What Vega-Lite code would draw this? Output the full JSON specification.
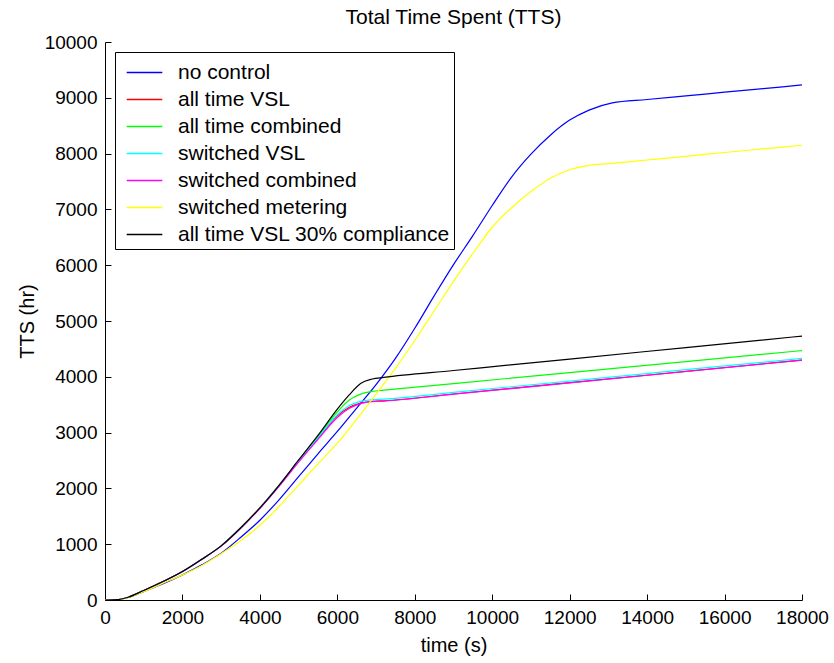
{
  "$schema": "https://vega.github.io/schema/vega-lite/v6.json",
  "autosize": "none",
  "width": 697,
  "height": 558,
  "padding": {"left": 105, "top": 42, "right": 32, "bottom": 63},
  "background": "white",
  "title": {"text": "Total Time Spent (TTS)", "font": "Liberation Sans", "fontSize": 21, "fontWeight": "normal", "color": "black", "anchor": "middle", "offset": 5},
  "config": {"view": {"stroke": null}},
  "datasets": {
    "tts": [
      {"s": "no control", "t": 0, "v": 0}, {"s": "no control", "t": 300, "v": 5}, {"s": "no control", "t": 600, "v": 45}, {"s": "no control", "t": 1000, "v": 150}, {"s": "no control", "t": 1500, "v": 290}, {"s": "no control", "t": 2000, "v": 450}, {"s": "no control", "t": 2500, "v": 630}, {"s": "no control", "t": 3000, "v": 840}, {"s": "no control", "t": 3500, "v": 1120}, {"s": "no control", "t": 4000, "v": 1430}, {"s": "no control", "t": 4500, "v": 1800}, {"s": "no control", "t": 5000, "v": 2210}, {"s": "no control", "t": 5500, "v": 2620}, {"s": "no control", "t": 6000, "v": 3020}, {"s": "no control", "t": 6500, "v": 3440}, {"s": "no control", "t": 7000, "v": 3860}, {"s": "no control", "t": 7500, "v": 4330}, {"s": "no control", "t": 8000, "v": 4870}, {"s": "no control", "t": 8500, "v": 5450}, {"s": "no control", "t": 9000, "v": 6010}, {"s": "no control", "t": 9500, "v": 6530}, {"s": "no control", "t": 10000, "v": 7070}, {"s": "no control", "t": 10500, "v": 7580}, {"s": "no control", "t": 11000, "v": 7990}, {"s": "no control", "t": 11500, "v": 8330}, {"s": "no control", "t": 12000, "v": 8600}, {"s": "no control", "t": 12500, "v": 8780}, {"s": "no control", "t": 13100, "v": 8910}, {"s": "no control", "t": 14000, "v": 8970}, {"s": "no control", "t": 15000, "v": 9035}, {"s": "no control", "t": 16000, "v": 9100}, {"s": "no control", "t": 17000, "v": 9165}, {"s": "no control", "t": 18000, "v": 9230},

      {"s": "all time VSL", "t": 0, "v": 0}, {"s": "all time VSL", "t": 300, "v": 5}, {"s": "all time VSL", "t": 600, "v": 50}, {"s": "all time VSL", "t": 1000, "v": 170}, {"s": "all time VSL", "t": 1500, "v": 330}, {"s": "all time VSL", "t": 2000, "v": 510}, {"s": "all time VSL", "t": 2500, "v": 730}, {"s": "all time VSL", "t": 3000, "v": 970}, {"s": "all time VSL", "t": 3500, "v": 1290}, {"s": "all time VSL", "t": 4000, "v": 1650}, {"s": "all time VSL", "t": 4500, "v": 2060}, {"s": "all time VSL", "t": 5000, "v": 2490}, {"s": "all time VSL", "t": 5500, "v": 2900}, {"s": "all time VSL", "t": 6000, "v": 3300}, {"s": "all time VSL", "t": 6300, "v": 3450}, {"s": "all time VSL", "t": 6600, "v": 3530}, {"s": "all time VSL", "t": 6900, "v": 3560}, {"s": "all time VSL", "t": 7200, "v": 3570}, {"s": "all time VSL", "t": 9000, "v": 3692}, {"s": "all time VSL", "t": 12000, "v": 3894}, {"s": "all time VSL", "t": 15000, "v": 4097}, {"s": "all time VSL", "t": 18000, "v": 4300},

      {"s": "all time combined", "t": 0, "v": 0}, {"s": "all time combined", "t": 300, "v": 5}, {"s": "all time combined", "t": 600, "v": 50}, {"s": "all time combined", "t": 1000, "v": 170}, {"s": "all time combined", "t": 1500, "v": 330}, {"s": "all time combined", "t": 2000, "v": 510}, {"s": "all time combined", "t": 2500, "v": 730}, {"s": "all time combined", "t": 3000, "v": 970}, {"s": "all time combined", "t": 3500, "v": 1290}, {"s": "all time combined", "t": 4000, "v": 1650}, {"s": "all time combined", "t": 4500, "v": 2060}, {"s": "all time combined", "t": 5000, "v": 2500}, {"s": "all time combined", "t": 5500, "v": 2930}, {"s": "all time combined", "t": 6000, "v": 3370}, {"s": "all time combined", "t": 6300, "v": 3580}, {"s": "all time combined", "t": 6600, "v": 3690}, {"s": "all time combined", "t": 6900, "v": 3740}, {"s": "all time combined", "t": 7200, "v": 3760}, {"s": "all time combined", "t": 9000, "v": 3878}, {"s": "all time combined", "t": 12000, "v": 4075}, {"s": "all time combined", "t": 15000, "v": 4273}, {"s": "all time combined", "t": 18000, "v": 4470},

      {"s": "switched VSL", "t": 0, "v": 0}, {"s": "switched VSL", "t": 300, "v": 5}, {"s": "switched VSL", "t": 600, "v": 50}, {"s": "switched VSL", "t": 1000, "v": 170}, {"s": "switched VSL", "t": 1500, "v": 330}, {"s": "switched VSL", "t": 2000, "v": 510}, {"s": "switched VSL", "t": 2500, "v": 730}, {"s": "switched VSL", "t": 3000, "v": 970}, {"s": "switched VSL", "t": 3500, "v": 1290}, {"s": "switched VSL", "t": 4000, "v": 1650}, {"s": "switched VSL", "t": 4500, "v": 2060}, {"s": "switched VSL", "t": 5000, "v": 2490}, {"s": "switched VSL", "t": 5500, "v": 2910}, {"s": "switched VSL", "t": 6000, "v": 3320}, {"s": "switched VSL", "t": 6300, "v": 3480}, {"s": "switched VSL", "t": 6600, "v": 3560}, {"s": "switched VSL", "t": 6900, "v": 3590}, {"s": "switched VSL", "t": 7200, "v": 3600}, {"s": "switched VSL", "t": 9000, "v": 3722}, {"s": "switched VSL", "t": 12000, "v": 3924}, {"s": "switched VSL", "t": 15000, "v": 4127}, {"s": "switched VSL", "t": 18000, "v": 4330},

      {"s": "switched combined", "t": 0, "v": 0}, {"s": "switched combined", "t": 300, "v": 5}, {"s": "switched combined", "t": 600, "v": 50}, {"s": "switched combined", "t": 1000, "v": 170}, {"s": "switched combined", "t": 1500, "v": 330}, {"s": "switched combined", "t": 2000, "v": 510}, {"s": "switched combined", "t": 2500, "v": 730}, {"s": "switched combined", "t": 3000, "v": 965}, {"s": "switched combined", "t": 3500, "v": 1280}, {"s": "switched combined", "t": 4000, "v": 1640}, {"s": "switched combined", "t": 4500, "v": 2040}, {"s": "switched combined", "t": 5000, "v": 2470}, {"s": "switched combined", "t": 5500, "v": 2880}, {"s": "switched combined", "t": 6000, "v": 3270}, {"s": "switched combined", "t": 6300, "v": 3430}, {"s": "switched combined", "t": 6600, "v": 3520}, {"s": "switched combined", "t": 6900, "v": 3555}, {"s": "switched combined", "t": 7200, "v": 3565}, {"s": "switched combined", "t": 9000, "v": 3688}, {"s": "switched combined", "t": 12000, "v": 3891}, {"s": "switched combined", "t": 15000, "v": 4095}, {"s": "switched combined", "t": 18000, "v": 4300},

      {"s": "switched metering", "t": 0, "v": 0}, {"s": "switched metering", "t": 300, "v": 5}, {"s": "switched metering", "t": 600, "v": 45}, {"s": "switched metering", "t": 1000, "v": 150}, {"s": "switched metering", "t": 1500, "v": 300}, {"s": "switched metering", "t": 2000, "v": 450}, {"s": "switched metering", "t": 2500, "v": 620}, {"s": "switched metering", "t": 3000, "v": 830}, {"s": "switched metering", "t": 3500, "v": 1060}, {"s": "switched metering", "t": 4000, "v": 1340}, {"s": "switched metering", "t": 4500, "v": 1680}, {"s": "switched metering", "t": 5000, "v": 2060}, {"s": "switched metering", "t": 5500, "v": 2440}, {"s": "switched metering", "t": 6000, "v": 2810}, {"s": "switched metering", "t": 6500, "v": 3240}, {"s": "switched metering", "t": 7000, "v": 3690}, {"s": "switched metering", "t": 7500, "v": 4150}, {"s": "switched metering", "t": 8000, "v": 4650}, {"s": "switched metering", "t": 8500, "v": 5180}, {"s": "switched metering", "t": 9000, "v": 5710}, {"s": "switched metering", "t": 9500, "v": 6210}, {"s": "switched metering", "t": 10000, "v": 6680}, {"s": "switched metering", "t": 10500, "v": 7030}, {"s": "switched metering", "t": 11000, "v": 7320}, {"s": "switched metering", "t": 11500, "v": 7560}, {"s": "switched metering", "t": 12000, "v": 7710}, {"s": "switched metering", "t": 12500, "v": 7790}, {"s": "switched metering", "t": 13000, "v": 7820}, {"s": "switched metering", "t": 14000, "v": 7885}, {"s": "switched metering", "t": 15000, "v": 7950}, {"s": "switched metering", "t": 16000, "v": 8020}, {"s": "switched metering", "t": 17000, "v": 8085}, {"s": "switched metering", "t": 18000, "v": 8150},

      {"s": "all time VSL 30% compliance", "t": 0, "v": 0}, {"s": "all time VSL 30% compliance", "t": 300, "v": 5}, {"s": "all time VSL 30% compliance", "t": 600, "v": 50}, {"s": "all time VSL 30% compliance", "t": 1000, "v": 170}, {"s": "all time VSL 30% compliance", "t": 1500, "v": 330}, {"s": "all time VSL 30% compliance", "t": 2000, "v": 510}, {"s": "all time VSL 30% compliance", "t": 2500, "v": 730}, {"s": "all time VSL 30% compliance", "t": 3000, "v": 970}, {"s": "all time VSL 30% compliance", "t": 3500, "v": 1290}, {"s": "all time VSL 30% compliance", "t": 4000, "v": 1650}, {"s": "all time VSL 30% compliance", "t": 4500, "v": 2060}, {"s": "all time VSL 30% compliance", "t": 5000, "v": 2510}, {"s": "all time VSL 30% compliance", "t": 5500, "v": 2950}, {"s": "all time VSL 30% compliance", "t": 6000, "v": 3420}, {"s": "all time VSL 30% compliance", "t": 6300, "v": 3670}, {"s": "all time VSL 30% compliance", "t": 6600, "v": 3880}, {"s": "all time VSL 30% compliance", "t": 6900, "v": 3960}, {"s": "all time VSL 30% compliance", "t": 7200, "v": 3990}, {"s": "all time VSL 30% compliance", "t": 9000, "v": 4113}, {"s": "all time VSL 30% compliance", "t": 12000, "v": 4318}, {"s": "all time VSL 30% compliance", "t": 15000, "v": 4524}, {"s": "all time VSL 30% compliance", "t": 18000, "v": 4730}
    ]
  },
  "data": {"name": "tts"},
  "mark": {"type": "line", "strokeWidth": 1.2, "interpolate": "monotone", "clip": true},
  "encoding": {
    "x": {
      "field": "t", "type": "quantitative", "title": "time (s)",
      "scale": {"domain": [0, 18000], "nice": false},
      "axis": {"values": [0, 2000, 4000, 6000, 8000, 10000, 12000, 14000, 16000, 18000], "grid": false, "tickSize": -6, "tickColor": "black", "domainColor": "black", "labelColor": "black", "labelFont": "Liberation Sans", "labelFontSize": 19, "labelPadding": 14, "labelFlush": false, "format": "d", "titleFont": "Liberation Sans", "titleFontSize": 20, "titleFontWeight": "normal", "titleColor": "black", "titlePadding": 8}
    },
    "y": {
      "field": "v", "type": "quantitative", "title": "TTS (hr)",
      "scale": {"domain": [0, 10000], "nice": false},
      "axis": {"values": [0, 1000, 2000, 3000, 4000, 5000, 6000, 7000, 8000, 9000, 10000], "grid": false, "tickSize": -6, "tickColor": "black", "domainColor": "black", "labelColor": "black", "labelFont": "Liberation Sans", "labelFontSize": 19, "labelPadding": 14, "labelFlush": false, "format": "d", "titleFont": "Liberation Sans", "titleFontSize": 20, "titleFontWeight": "normal", "titleColor": "black", "titlePadding": 7}
    },
    "color": {
      "field": "s", "type": "nominal",
      "scale": {
        "domain": ["no control", "all time VSL", "all time combined", "switched VSL", "switched combined", "switched metering", "all time VSL 30% compliance"],
        "range": ["#0000ff", "#ff0000", "#00ff00", "#00ffff", "#ff00ff", "#ffff00", "#000000"]
      },
      "legend": {
        "title": null, "orient": "top-left", "offset": 10,
        "strokeColor": "black", "fillColor": "white", "padding": 4,
        "symbolType": "M-1.15,0H1.15", "symbolSize": 960, "symbolStrokeWidth": 1.5, "symbolOffset": 9,
        "labelFont": "Liberation Sans", "labelFontSize": 21, "labelColor": "black",
        "labelOffset": 17, "labelLimit": 400, "rowPadding": 0,
        "labelExpr": "datum.label + '\u00a0\u00a0\u00a0'"
      }
    },
    "order": {"field": "t", "type": "quantitative"}
  }
}
